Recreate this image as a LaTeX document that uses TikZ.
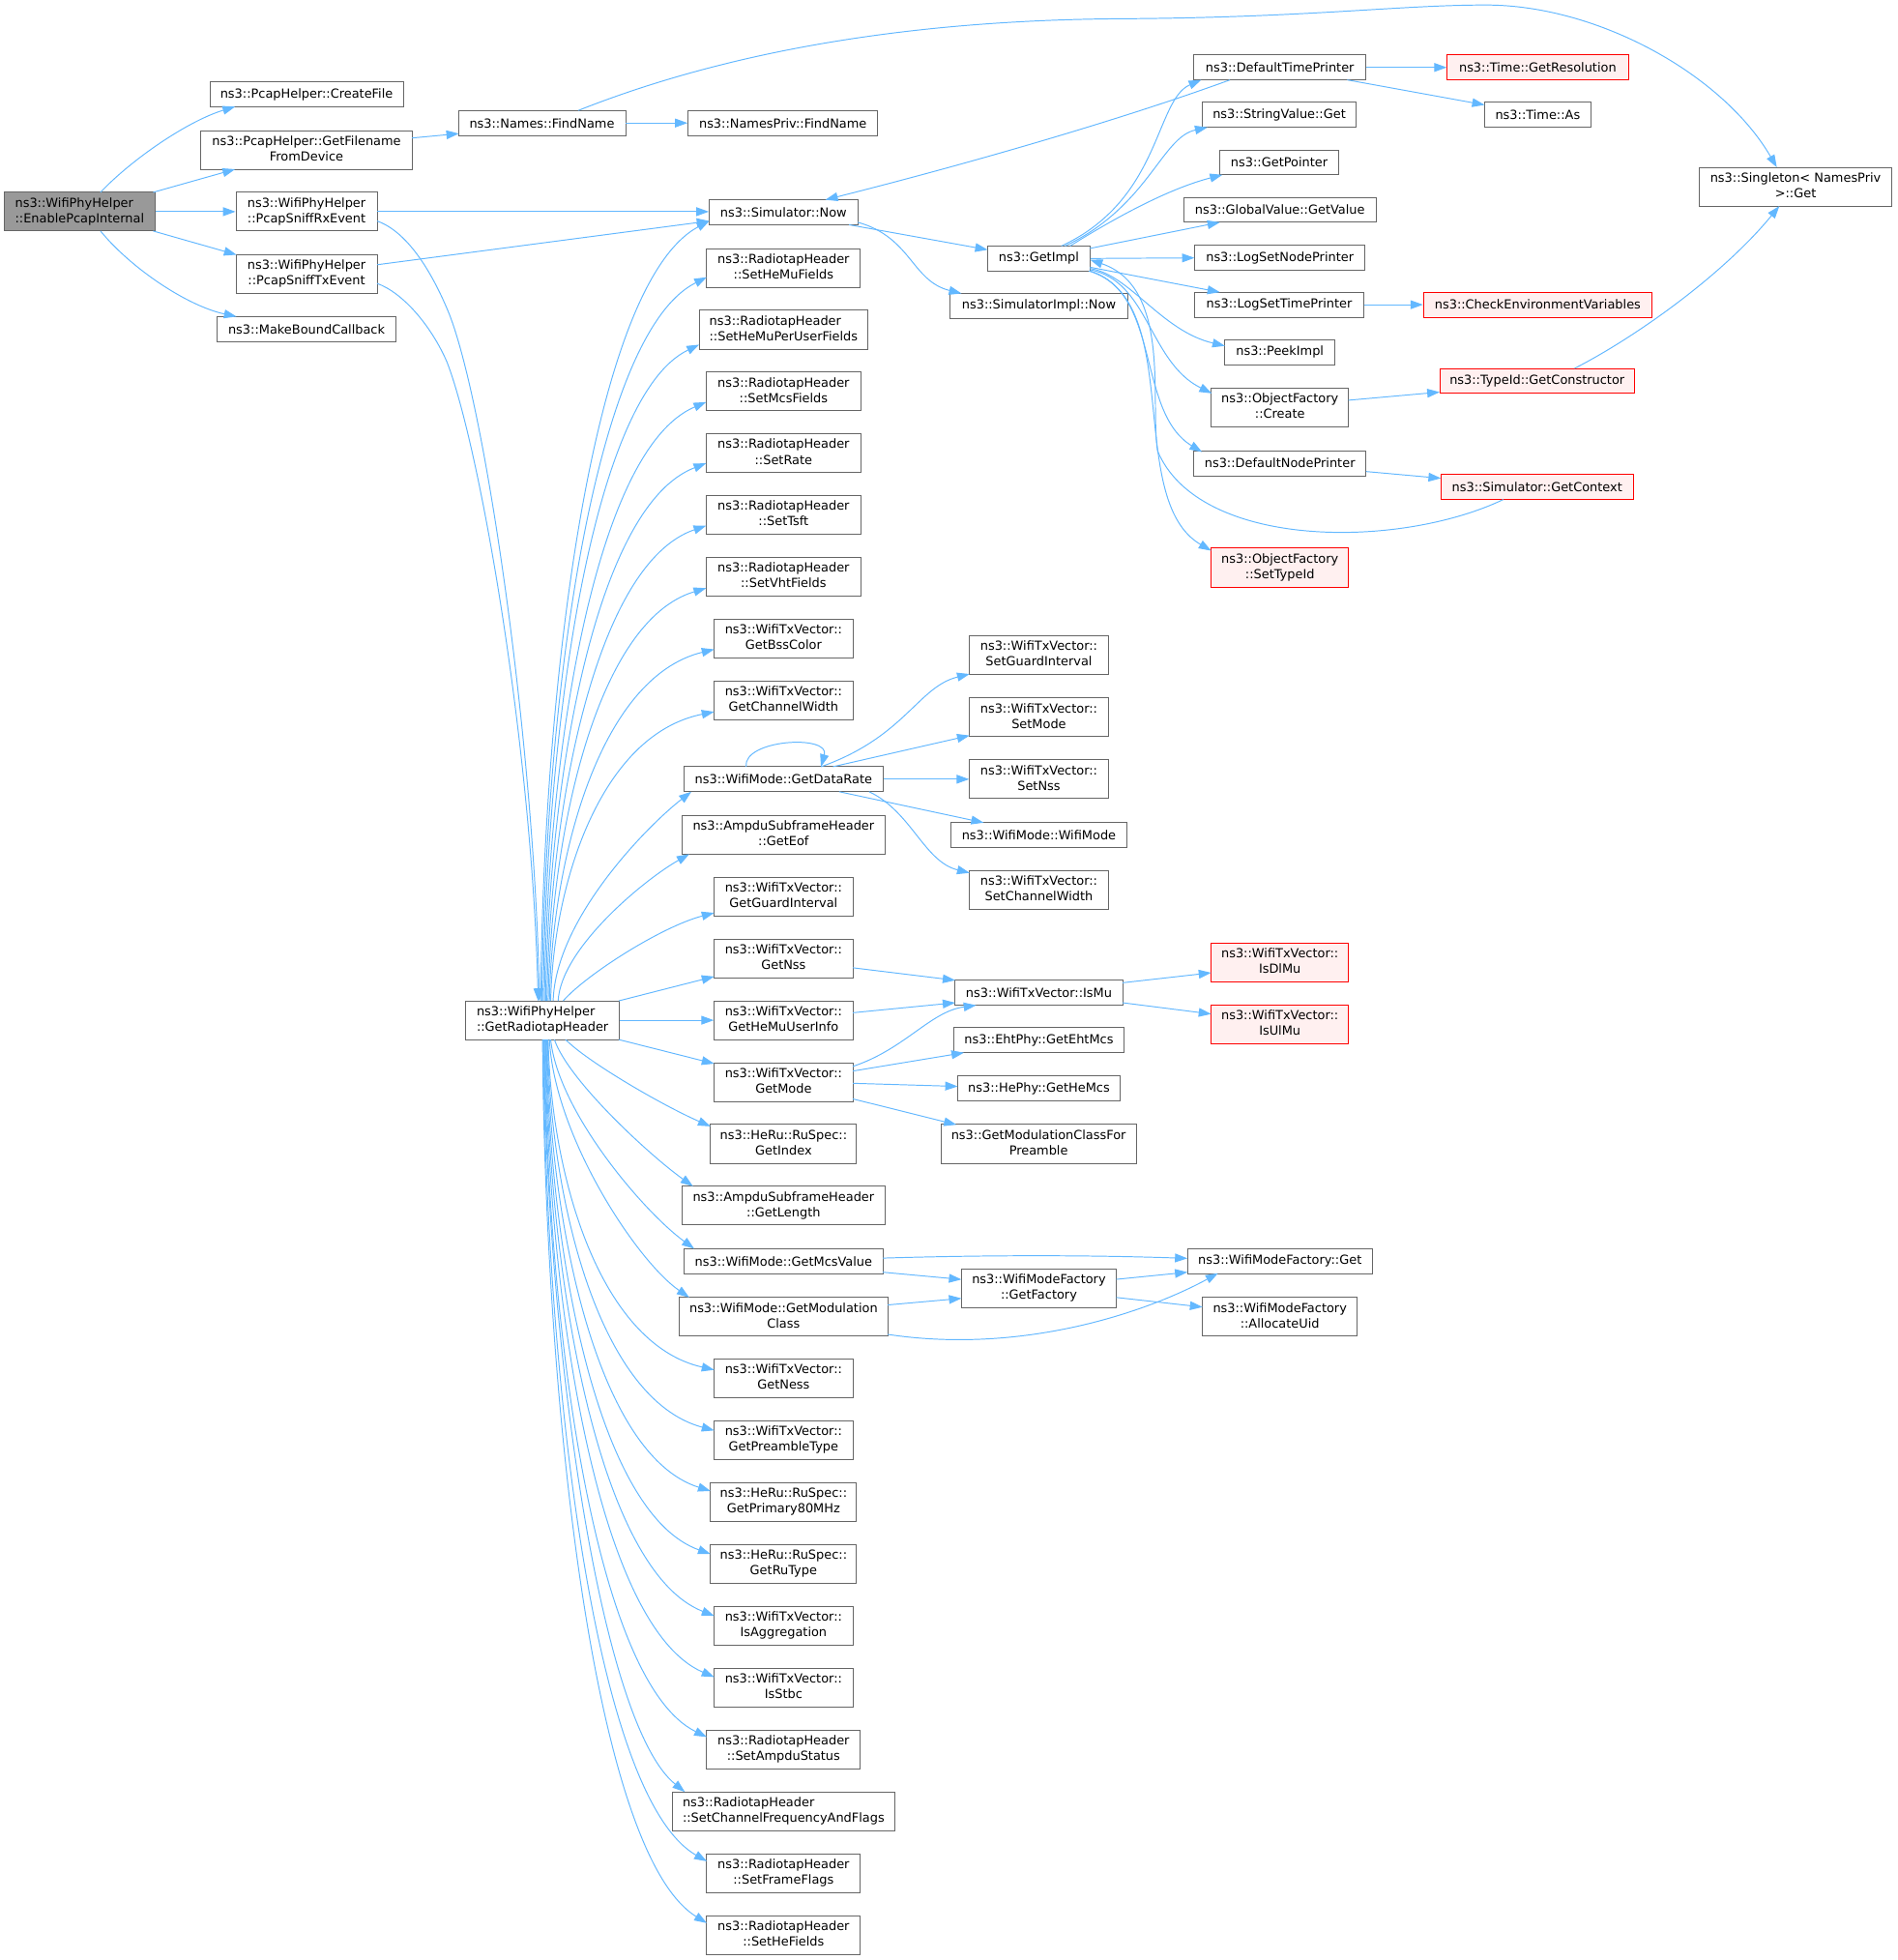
\documentclass[tikz,border=0pt]{standalone}
\usepackage{fontspec}
\setmainfont{DejaVu Sans}
\usetikzlibrary{arrows.meta,calc}
\definecolor{edgec}{HTML}{63B8FF}
\definecolor{nodeb}{HTML}{666666}
\definecolor{redfill}{HTML}{FFF0F0}
\definecolor{grayfill}{HTML}{999999}
\newcommand\nfont{\fontsize{10pt}{12.4pt}\selectfont}
\newcommand\tw[2]{\begin{tabular}{@{}l@{}}#1\\\multicolumn{1}{@{}c@{}}{#2}\end{tabular}}
\tikzset{
  nd/.style={draw=nodeb, line width=0.7pt, fill=white, inner sep=0pt, minimum height=20pt, font=\nfont},
  two/.style={minimum height=31pt},
  rednd/.style={draw=red, fill=redfill},
  graynd/.style={draw=nodeb, fill=grayfill},
  ed/.style={draw=edgec, line width=0.75pt, -{Triangle[length=10pt,width=7pt]}}
}
\begin{document}
\begin{tikzpicture}[x=1pt,y=-1pt]
\fill[white] (0,0) rectangle (1520,1569.6);
\useasboundingbox (0,0) rectangle (1520,1569.6);

% ---- left part
\node[nd,two,graynd,minimum width=120.5pt] (E) at (63.75,169.5) {\tw{ns3::WifiPhyHelper}{::EnablePcapInternal}};
\node[nd,minimum width=155pt] (cf) at (245.5,75.5) {ns3::PcapHelper::CreateFile};
\node[nd,two,minimum width=169pt] (gf) at (245.5,120.5) {\tw{ns3::PcapHelper::GetFilename}{FromDevice}};
\node[nd,two,minimum width=113pt] (rx) at (245.5,169.5) {\tw{ns3::WifiPhyHelper}{::PcapSniffRxEvent}};
\node[nd,two,minimum width=113pt] (tx) at (245.5,219.5) {\tw{ns3::WifiPhyHelper}{::PcapSniffTxEvent}};
\node[nd,minimum width=143pt] (mb) at (245.5,263.5) {ns3::MakeBoundCallback};
\node[nd,minimum width=134pt] (fn) at (434,98.5) {ns3::Names::FindName};
\node[nd,minimum width=152pt] (npf) at (627,98.5) {ns3::NamesPriv::FindName};
\node[nd,two,minimum width=123pt] (R) at (434.5,817) {\tw{ns3::WifiPhyHelper}{::GetRadiotapHeader}};

% ---- top right part
\node[nd,minimum width=119pt] (now) at (627.5,170) {ns3::Simulator::Now};
\node[nd,minimum width=82pt] (gi) at (832,207) {ns3::GetImpl};
\node[nd,minimum width=142pt] (sin) at (832,245) {ns3::SimulatorImpl::Now};
\node[nd,minimum width=138pt] (dtp) at (1025,54) {ns3::DefaultTimePrinter};
\node[nd,rednd,minimum width=145pt] (res) at (1231.5,54) {ns3::Time::GetResolution};
\node[nd,minimum width=85pt] (as) at (1231.5,92) {ns3::Time::As};
\node[nd,minimum width=123pt] (sv) at (1024.5,92) {ns3::StringValue::Get};
\node[nd,minimum width=95pt] (gp) at (1024.5,130) {ns3::GetPointer};
\node[nd,minimum width=154pt] (gv) at (1025,168) {ns3::GlobalValue::GetValue};
\node[nd,minimum width=136pt] (lsn) at (1025,206.5) {ns3::LogSetNodePrinter};
\node[nd,minimum width=135pt] (lst) at (1024.5,244) {ns3::LogSetTimePrinter};
\node[nd,rednd,minimum width=183pt] (cev) at (1231.5,244) {ns3::CheckEnvironmentVariables};
\node[nd,minimum width=88pt] (pk) at (1025,282) {ns3::PeekImpl};
\node[nd,two,minimum width=110pt] (ofc) at (1025,326.5) {\tw{ns3::ObjectFactory}{::Create}};
\node[nd,rednd,minimum width=156pt] (gc) at (1231,305) {ns3::TypeId::GetConstructor};
\node[nd,minimum width=138pt] (dnp) at (1025,371) {ns3::DefaultNodePrinter};
\node[nd,rednd,minimum width=154pt] (gcx) at (1231,390) {ns3::Simulator::GetContext};
\node[nd,two,rednd,minimum width=110pt] (sti) at (1025,454.5) {\tw{ns3::ObjectFactory}{::SetTypeId}};
\node[nd,two,minimum width=154pt] (sg) at (1438,149.5) {\tw{ns3::Singleton< NamesPriv}{>::Get}};

% ---- column of callees of GetRadiotapHeader
\node[nd,two,minimum width=123pt] (hmu) at (627.5,214.5) {\tw{ns3::RadiotapHeader}{::SetHeMuFields}};
\node[nd,two,minimum width=135pt] (hmpu) at (627.5,264) {\tw{ns3::RadiotapHeader}{::SetHeMuPerUserFields}};
\node[nd,two,minimum width=124pt] (mcs) at (627.5,313.5) {\tw{ns3::RadiotapHeader}{::SetMcsFields}};
\node[nd,two,minimum width=124pt] (rate) at (627.5,363) {\tw{ns3::RadiotapHeader}{::SetRate}};
\node[nd,two,minimum width=124pt] (tsft) at (627.5,412.5) {\tw{ns3::RadiotapHeader}{::SetTsft}};
\node[nd,two,minimum width=124pt] (vht) at (627.5,462) {\tw{ns3::RadiotapHeader}{::SetVhtFields}};
\node[nd,two,minimum width=111pt] (bss) at (627.5,511.5) {\tw{ns3::WifiTxVector::}{GetBssColor}};
\node[nd,two,minimum width=111pt] (cw) at (627.5,561) {\tw{ns3::WifiTxVector::}{GetChannelWidth}};
\node[nd,minimum width=159.5pt] (dr) at (627.5,624) {ns3::WifiMode::GetDataRate};
\node[nd,two,minimum width=162pt] (eof) at (627.5,668.5) {\tw{ns3::AmpduSubframeHeader}{::GetEof}};
\node[nd,two,minimum width=111pt] (ggi) at (627.5,718) {\tw{ns3::WifiTxVector::}{GetGuardInterval}};
\node[nd,two,minimum width=111pt] (nss) at (627.5,767.5) {\tw{ns3::WifiTxVector::}{GetNss}};
\node[nd,two,minimum width=111pt] (hmui) at (627.5,817) {\tw{ns3::WifiTxVector::}{GetHeMuUserInfo}};
\node[nd,two,minimum width=111pt] (mode) at (627.5,866.5) {\tw{ns3::WifiTxVector::}{GetMode}};
\node[nd,two,minimum width=117pt] (idx) at (627.5,916) {\tw{ns3::HeRu::RuSpec::}{GetIndex}};
\node[nd,two,minimum width=162pt] (len) at (627.5,965.5) {\tw{ns3::AmpduSubframeHeader}{::GetLength}};
\node[nd,minimum width=159pt] (mcsv) at (627.5,1010) {ns3::WifiMode::GetMcsValue};
\node[nd,two,minimum width=167pt] (modc) at (627.5,1054.5) {\tw{ns3::WifiMode::GetModulation}{Class}};
\node[nd,two,minimum width=111pt] (ness) at (627.5,1104) {\tw{ns3::WifiTxVector::}{GetNess}};
\node[nd,two,minimum width=111pt] (pre) at (627.5,1153.5) {\tw{ns3::WifiTxVector::}{GetPreambleType}};
\node[nd,two,minimum width=117pt] (p80) at (627.5,1203) {\tw{ns3::HeRu::RuSpec::}{GetPrimary80MHz}};
\node[nd,two,minimum width=117pt] (rut) at (627.5,1252.5) {\tw{ns3::HeRu::RuSpec::}{GetRuType}};
\node[nd,two,minimum width=111pt] (agg) at (627.5,1302) {\tw{ns3::WifiTxVector::}{IsAggregation}};
\node[nd,two,minimum width=111pt] (stbc) at (627.5,1351.5) {\tw{ns3::WifiTxVector::}{IsStbc}};
\node[nd,two,minimum width=123pt] (amp) at (627.5,1401) {\tw{ns3::RadiotapHeader}{::SetAmpduStatus}};
\node[nd,two,minimum width=178pt] (cff) at (627.5,1450.5) {\tw{ns3::RadiotapHeader}{::SetChannelFrequencyAndFlags}};
\node[nd,two,minimum width=123pt] (ff) at (627.5,1500) {\tw{ns3::RadiotapHeader}{::SetFrameFlags}};
\node[nd,two,minimum width=123pt] (hef) at (627.5,1549.5) {\tw{ns3::RadiotapHeader}{::SetHeFields}};

% ---- further columns
\node[nd,two,minimum width=111pt] (sgi) at (832,524.75) {\tw{ns3::WifiTxVector::}{SetGuardInterval}};
\node[nd,two,minimum width=111pt] (smo) at (832,574.5) {\tw{ns3::WifiTxVector::}{SetMode}};
\node[nd,two,minimum width=111pt] (sns) at (832,624) {\tw{ns3::WifiTxVector::}{SetNss}};
\node[nd,minimum width=141pt] (wm) at (832,668.5) {ns3::WifiMode::WifiMode};
\node[nd,two,minimum width=111pt] (scw) at (832,712.5) {\tw{ns3::WifiTxVector::}{SetChannelWidth}};
\node[nd,minimum width=134pt] (ismu) at (832,795) {ns3::WifiTxVector::IsMu};
\node[nd,minimum width=136pt] (eht) at (832,833) {ns3::EhtPhy::GetEhtMcs};
\node[nd,minimum width=130pt] (hem) at (832,871.7) {ns3::HePhy::GetHeMcs};
\node[nd,two,minimum width=156.5pt] (gmp) at (831.75,916) {\tw{ns3::GetModulationClassFor}{Preamble}};
\node[nd,two,minimum width=124pt] (fac) at (832,1031.75) {\tw{ns3::WifiModeFactory}{::GetFactory}};
\node[nd,two,rednd,minimum width=110pt] (dl) at (1025,770.5) {\tw{ns3::WifiTxVector::}{IsDlMu}};
\node[nd,two,rednd,minimum width=110pt] (ul) at (1025,820) {\tw{ns3::WifiTxVector::}{IsUlMu}};
\node[nd,minimum width=148pt] (wfg) at (1025,1010) {ns3::WifiModeFactory::Get};
\node[nd,two,minimum width=124pt] (au) at (1025,1054.5) {\tw{ns3::WifiModeFactory}{::AllocateUid}};

% ================= edges
% EnablePcapInternal
\draw[ed] ($(E)+(16.75,-15.5)$) .. controls (105,128) and (150,97) .. ($(cf)+(-57.2,9.9)$);
\draw[ed] ($(E)+(58.95,-15.5)$) -- ($(gf)+(-57.2,15)$);
\draw[ed] (E.east) -- (rx.west);
\draw[ed] ($(E)+(58.95,15.5)$) -- ($(tx)+(-56.1,-15.5)$);
\draw[ed] ($(E)+(16.75,15.5)$) .. controls (105,215) and (150,245) .. ($(mb)+(-56.1,-10)$);
% names
\draw[ed] ($(gf)+(84.5,-10)$) -- ($(fn)+(-66.5,8.5)$);
\draw[ed] (fn.east) -- (npf.west);
\draw[ed] ($(fn)+(29,-10)$) .. controls (560,50) and (700,16) .. (900,15)
  .. controls (1050,14) and (1120,4) .. (1190,4)
  .. controls (1280,4) and (1380,60) .. ($(sg)+(-15,-15.5)$);
\draw[ed] ($(gc)+(30,-10)$) .. controls (1310,270) and (1380,220) .. ($(sg)+(-13,15.5)$);
% time printer
\draw[ed] (dtp.east) -- (res.west);
\draw[ed] ($(dtp)+(54,10)$) -- ($(as)+(-42.5,-8)$);
\draw[ed] ($(dtp)+(-40,10)$) .. controls (900,95) and (780,130) .. ($(now)+(33.5,-10)$);
\draw[ed] (lst.east) -- (cev.west);
\draw[ed] ($(ofc)+(55,-6)$) -- ($(gc)+(-78,9)$);
\draw[ed] ($(dnp)+(69,6.6)$) -- ($(gcx)+(-77,-7)$);
\draw[ed] ($(gcx)+(-27,10)$) .. controls (1120,440) and (960,440) .. (927,361)
  .. controls (921,320) and (938,230) .. ($(gi)+(41,1)$);
% GetImpl
\draw[ed] ($(gi)+(18,-10)$) .. controls (930,160) and (925,80) .. ($(dtp)+(-63,10)$);
\draw[ed] ($(gi)+(21,-10)$) .. controls (920,165) and (930,110) .. ($(sv)+(-57.5,10)$);
\draw[ed] ($(gi)+(25,-10)$) .. controls (900,170) and (940,150) .. ($(gp)+(-45.5,10)$);
\draw[ed] ($(gi)+(40.5,-8)$) -- ($(gv)+(-48,10)$);
\draw[ed] (gi.east) -- (lsn.west);
\draw[ed] ($(gi)+(41,7)$) -- ($(lst)+(-47.5,-10)$);
\draw[ed] ($(gi)+(41,8)$) .. controls (905,220) and (930,265) .. ($(pk)+(-44,-5)$);
\draw[ed] ($(gi)+(41,9)$) .. controls (920,225) and (920,290) .. ($(ofc)+(-54.5,-11.5)$);
\draw[ed] ($(gi)+(41,10)$) .. controls (930,235) and (910,330) .. ($(dnp)+(-62.3,-9)$);
\draw[ed] ($(gi)+(40,10)$) .. controls (950,240) and (900,400) .. ($(sti)+(-55,-13.5)$);
% Simulator::Now
\draw[ed] ($(now)+(52.5,10)$) -- ($(gi)+(-41,-7)$);
\draw[ed] ($(now)+(59.5,8)$) .. controls (730,190) and (730,225) .. ($(sin)+(-62,-10)$);
% sniff events
\draw[ed] (rx.east) -- (rx.east -| now.west);
\draw[ed] ($(tx)+(56.5,-7.5)$) -- ($(now)+(-59.5,7)$);
\draw[ed] ($(rx)+(56.5,7.5)$) .. controls (325,185) and (345,215) .. (360,252)
  .. controls (390,330) and (428,600) .. ($(R)+(-2.5,-15.5)$);
\draw[ed] ($(tx)+(56.5,7.5)$) .. controls (322,234) and (345,260) .. (358,290)
  .. controls (385,360) and (426,600) .. ($(R)+(-3.5,-15.5)$);

% GetRadiotapHeader upwards
\draw[ed] ($(R)+(-1.5,-15.5)$) .. controls (435,551.7) and (473.5,227) .. ($(now)+(-59.5,7)$);
\draw[ed] ($(R)+(-0.5,-15.5)$) .. controls (436,569.7) and (473.6,268.4) .. ($(hmu)+(-61.5,7.5)$);
\draw[ed] ($(R)+(0.5,-15.5)$) .. controls (437,591.3) and (472.5,318) .. ($(hmpu)+(-67.5,12)$);
\draw[ed] ($(R)+(1.5,-15.5)$) .. controls (438,609.7) and (475,360.4) .. ($(mcs)+(-62,8.5)$);
\draw[ed] ($(R)+(2.5,-15.5)$) .. controls (439,629.3) and (475.7,405.4) .. ($(rate)+(-62,8)$);
\draw[ed] ($(R)+(3.5,-15.5)$) .. controls (440,649.3) and (476.4,451.4) .. ($(tsft)+(-62,8.5)$);
\draw[ed] ($(R)+(4.5,-15.5)$) .. controls (441,669.3) and (477.1,497.4) .. ($(vht)+(-62,9)$);
\draw[ed] ($(R)+(5.5,-15.5)$) .. controls (442,688.9) and (479.6,542.5) .. ($(bss)+(-55.5,8.5)$);
\draw[ed] ($(R)+(6.5,-15.5)$) .. controls (443,708.9) and (480.3,588.5) .. ($(cw)+(-55.5,9)$);
\draw[ed] ($(R)+(8.5,-15.5)$) .. controls (445,735) and (520,660) .. ($(dr)+(-73.8,10)$);
\draw[ed] ($(R)+(12.5,-15.5)$) .. controls (449,760) and (515,705) .. ($(eof)+(-75.5,15.5)$);
\draw[ed] ($(R)+(16.5,-15.5)$) .. controls (470,780) and (530,742) .. ($(ggi)+(-55.5,13)$);
\draw[ed] ($(R)+(61,-15.5)$) -- ($(nss)+(-55.5,14.5)$);
\draw[ed] (R.east) -- (hmui.west);
\draw[ed] ($(R)+(61,15.5)$) -- ($(mode)+(-55.5,-14.7)$);
% GetRadiotapHeader downwards
\draw[ed] ($(R)+(18.5,15.5)$) .. controls (470,850) and (530,885) .. ($(idx)+(-58.5,-14)$);
\draw[ed] ($(R)+(9.5,15.5)$) .. controls (455,865) and (520,925) .. ($(len)+(-72.5,-15.5)$);
\draw[ed] ($(R)+(6.5,15.5)$) .. controls (447,890) and (515,970) .. ($(mcsv)+(-71.5,-10)$);
\draw[ed] ($(R)+(5.5,15.5)$) .. controls (444,910) and (510,1010) .. ($(modc)+(-75.5,-15.5)$);
\draw[ed] ($(R)+(4.5,15.5)$) .. controls (441,938.3) and (478.9,1075.8) .. ($(ness)+(-55.5,-7)$);
\draw[ed] ($(R)+(4,15.5)$) .. controls (440.5,957.7) and (478.6,1120.5) .. ($(pre)+(-55.5,-8)$);
\draw[ed] ($(R)+(3.5,15.5)$) .. controls (440,977.1) and (477.3,1165.1) .. ($(p80)+(-58.5,-9)$);
\draw[ed] ($(R)+(3,15.5)$) .. controls (439.5,997.3) and (477,1211.5) .. ($(rut)+(-58.5,-8)$);
\draw[ed] ($(R)+(2.5,15.5)$) .. controls (439,1017) and (477.5,1256.9) .. ($(agg)+(-55.5,-8)$);
\draw[ed] ($(R)+(2,15.5)$) .. controls (438.5,1036.7) and (477.2,1302.2) .. ($(stbc)+(-55.5,-8.5)$);
\draw[ed] ($(R)+(1.5,15.5)$) .. controls (438,1055.9) and (475,1346.3) .. ($(amp)+(-61.5,-10)$);
\draw[ed] ($(R)+(1,15.5)$) .. controls (437.5,1073.1) and (480,1380) .. ($(cff)+(-79,-15.5)$);
\draw[ed] ($(R)+(0.5,15.5)$) .. controls (437,1095.7) and (474.3,1438) .. ($(ff)+(-61.5,-9.5)$);
\draw[ed] ($(R)+(0,15.5)$) .. controls (436.5,1115.5) and (474,1483.4) .. ($(hef)+(-61.5,-9.5)$);

% GetDataRate
\draw[ed] ($(dr)+(-30,-10)$) .. controls (595,592) and (665,588) .. ($(dr)+(30,-10)$);
\draw[ed] ($(dr)+(30,-10)$) .. controls (725,590) and (735,550) .. ($(sgi)+(-55.5,15)$);
\draw[ed] ($(dr)+(39.5,-10)$) -- ($(smo)+(-55.5,14.5)$);
\draw[ed] (dr.east) -- (sns.west);
\draw[ed] ($(dr)+(44.5,10)$) -- ($(wm)+(-44.2,-9.7)$);
\draw[ed] ($(dr)+(68.5,10)$) .. controls (730,650) and (740,690) .. ($(scw)+(-55.5,-13.5)$);
% IsMu etc.
\draw[ed] ($(nss)+(55.5,7.5)$) -- ($(ismu)+(-67,-10)$);
\draw[ed] ($(hmui)+(55.5,-6)$) -- ($(ismu)+(-67,8)$);
\draw[ed] ($(mode)+(55.5,-12.5)$) .. controls (725,840) and (745,810) .. ($(ismu)+(-50.2,10)$);
\draw[ed] ($(mode)+(55.5,-8.8)$) -- ($(eht)+(-60,10)$);
\draw[ed] ($(mode)+(55.5,1)$) -- ($(hem)+(-65,-1.7)$);
\draw[ed] ($(mode)+(55.5,13.5)$) -- ($(gmp)+(-65.75,-15.3)$);
\draw[ed] ($(ismu)+(67,-8)$) -- ($(dl)+(-55,8.5)$);
\draw[ed] ($(ismu)+(67,8)$) -- ($(ul)+(-55,-8)$);
% mode factory
\draw[ed] ($(mcsv)+(79.5,-2.5)$) .. controls (790,1005) and (870,1005) .. ($(wfg)+(-74,-2.3)$);
\draw[ed] ($(mcsv)+(79.5,8.8)$) -- ($(fac)+(-62,-7.15)$);
\draw[ed] ($(fac)+(62,-7.25)$) -- ($(wfg)+(-74,8.8)$);
\draw[ed] ($(fac)+(62,7.25)$) -- ($(au)+(-62,-7.8)$);
\draw[ed] ($(modc)+(83.5,-9.5)$) -- ($(fac)+(-62,8)$);
\draw[ed] ($(modc)+(83.5,14.1)$) .. controls (820,1085) and (920,1050) .. ($(wfg)+(-49.5,9.6)$);
\end{tikzpicture}
\end{document}
